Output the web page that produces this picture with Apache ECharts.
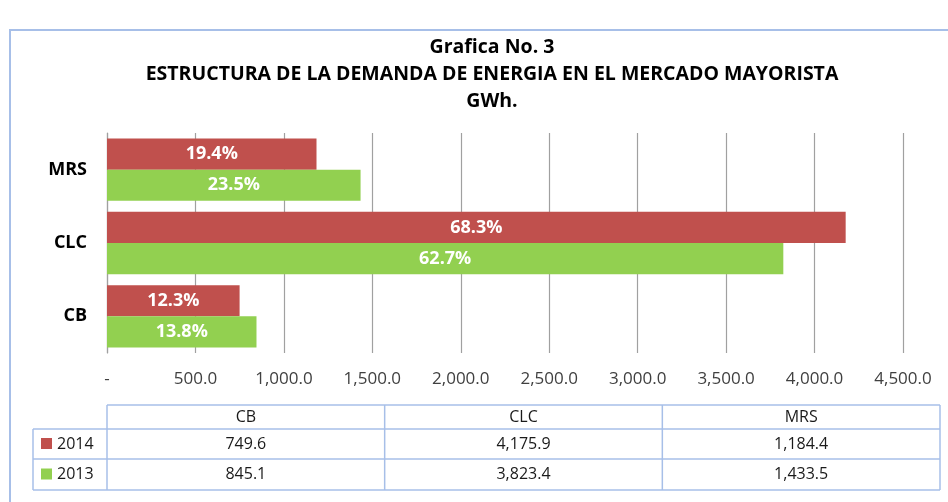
<!DOCTYPE html>
<html>
<head>
<meta charset="utf-8">
<title>Grafica No. 3</title>
<script src="https://cdn.jsdelivr.net/npm/echarts@6/dist/echarts.min.js"></script>
<style>
  html, body { margin: 0; padding: 0; background: #fff; }
  #chart { width: 948px; height: 502px; }
</style>
</head>
<body>
<div id="chart"></div>
<script>
  // data
  const categories = ['CB', 'CLC', 'MRS']
  const years = ['2014', '2013']
  const demand2014 = [749.6, 4175.9, 1184.4]
  const demand2013 = [845.1, 3823.4, 1433.5]
  const xMin = 0
  const xMax = 4500
  const xStep = 500

  const RED = '#C0504D'
  const GREEN = '#92D050'
  const BORDER = '#A7BFE8'
  const FONT = 'Open Sans'

  const fmt = v => v.toLocaleString('en-US', { minimumFractionDigits: 1, maximumFractionDigits: 1 })
  const share = arr => {
    const total = arr.reduce((a, b) => a + b, 0)
    return arr.map(v => (v / total * 100).toFixed(1) + '%')
  }
  const pct2014 = share(demand2014)
  const pct2013 = share(demand2013)

  function barSeries(name, data, pct, color) {
    return {
      name,
      type: 'bar',
      data,
      barGap: '0%',
      barCategoryGap: '15%',
      itemStyle: { color },
      label: {
        show: true,
        position: 'inside',
        color: '#fff',
        fontFamily: FONT,
        fontWeight: 'bold',
        fontSize: 18,
        formatter: p => pct[p.dataIndex]
      }
    }
  }

  // data table under the chart
  function dataTable() {
    const left = 107, right = 940, labelLeft = 33
    const rows = [405, 429, 459, 490]
    const colW = (right - left) / categories.length
    const els = []
    const line = (x1, y1, x2, y2) => els.push({
      type: 'line', shape: { x1, y1, x2, y2 }, style: { stroke: BORDER, lineWidth: 1.5 }
    })
    const text = (x, y, t, align) => els.push({
      type: 'text', x, y,
      style: { text: t, fill: '#1a1a1a', font: '16px "' + FONT + '"', align: align || 'center', verticalAlign: 'middle' }
    })
    line(left, rows[0], right, rows[0])
    line(labelLeft, rows[1], right, rows[1])
    line(labelLeft, rows[2], right, rows[2])
    line(labelLeft, rows[3], right, rows[3])
    line(labelLeft, rows[1], labelLeft, rows[3])
    for (let i = 0; i <= categories.length; i++) {
      line(left + colW * i, rows[0], left + colW * i, rows[3])
    }
    const values = [demand2014, demand2013]
    const colors = [RED, GREEN]
    categories.forEach((c, i) => text(left + colW * (i + 0.5), (rows[0] + rows[1]) / 2, c))
    years.forEach((y, r) => {
      const cy = (rows[r + 1] + rows[r + 2]) / 2
      els.push({ type: 'rect', shape: { x: 41, y: cy - 6, width: 11, height: 11 }, style: { fill: colors[r] } })
      text(57, cy, y, 'left')
      values[r].forEach((v, i) => text(left + colW * (i + 0.5), cy, fmt(v)))
    })
    return els
  }

  const chart = echarts.init(document.getElementById('chart'))
  chart.setOption({
    backgroundColor: '#fff',
    animation: false,
    title: {
      text: 'Grafica No. 3\nESTRUCTURA DE LA DEMANDA DE ENERGIA EN EL MERCADO MAYORISTA\nGWh.',
      left: 487,
      textAlign: 'center',
      top: 29,
      textStyle: {
        fontFamily: FONT,
        fontWeight: 'bold',
        fontSize: 19.5,
        lineHeight: 27,
        color: '#000'
      }
    },
    grid: {
      left: 107,
      right: 45,
      top: 133,
      bottom: 149,
      containLabel: false
    },
    xAxis: {
      type: 'value',
      min: xMin,
      max: xMax,
      interval: xStep,
      axisLine: { show: false },
      axisTick: { show: false },
      splitLine: { show: true, lineStyle: { color: '#A0A0A0', width: 1.2 } },
      axisLabel: {
        margin: 18,
        fontFamily: FONT,
        fontSize: 17,
        color: '#404040',
        formatter: v => v === 0 ? '-' : fmt(v)
      }
    },
    yAxis: {
      type: 'category',
      data: categories,
      axisLine: { show: true, lineStyle: { color: '#A0A0A0', width: 1.2 } },
      axisTick: { show: false },
      axisLabel: {
        margin: 20,
        fontFamily: FONT,
        fontWeight: 'bold',
        fontSize: 18,
        color: '#000'
      }
    },
    series: [
      barSeries('2014', demand2014, pct2014, RED),
      barSeries('2013', demand2013, pct2013, GREEN)
    ],
    graphic: [
      {
        type: 'polyline',
        shape: { points: [[10, 502], [10, 30], [948, 30]] },
        style: { stroke: BORDER, lineWidth: 2, fill: null }
      },
      ...dataTable()
    ]
  })
</script>
</body>
</html>
